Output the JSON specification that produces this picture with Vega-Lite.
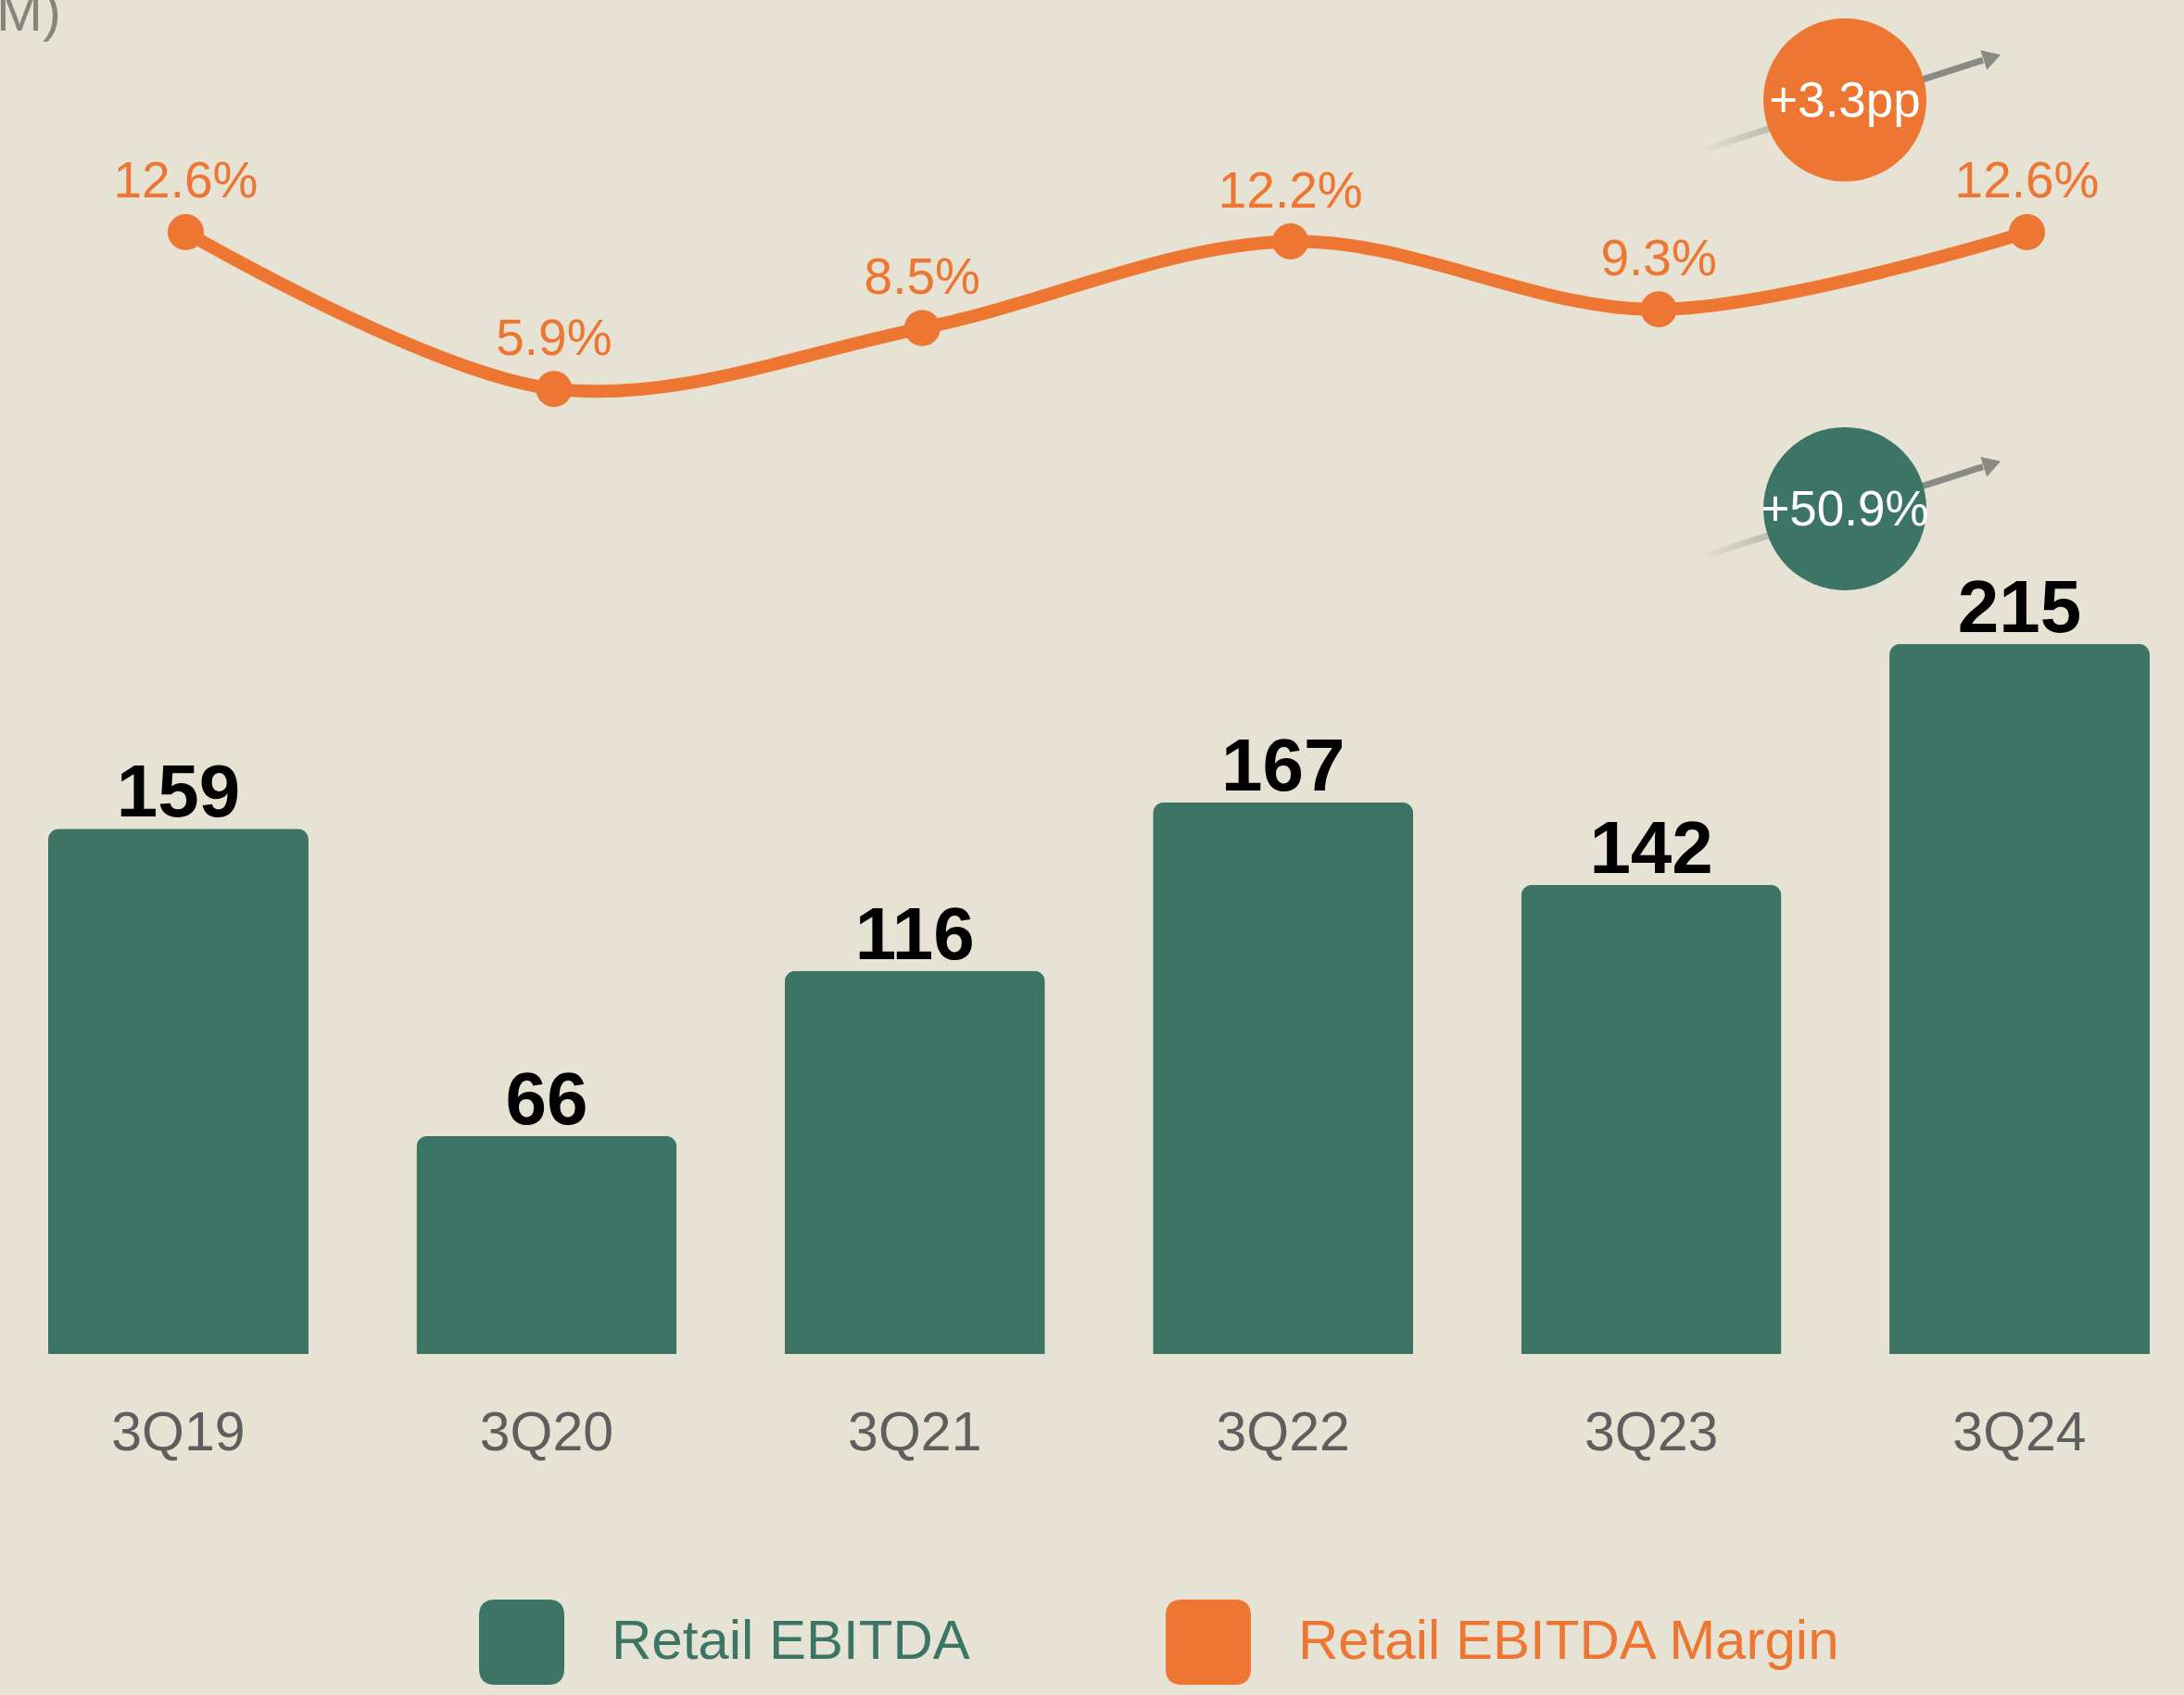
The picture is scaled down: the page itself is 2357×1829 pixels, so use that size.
{
  "$schema": "https://vega.github.io/schema/vega-lite/v6.json",
  "width": 2268,
  "height": 1461,
  "autosize": {"type": "none"},
  "padding": {"left": 52, "top": 0, "right": 37, "bottom": 368},
  "background": "#E6E3D4",
  "title": {
    "text": "M)",
    "anchor": "start",
    "frame": "group",
    "orient": "top",
    "offset": 0,
    "dx": -56,
    "dy": 93,
    "baseline": "alphabetic",
    "font": "Liberation Sans",
    "fontSize": 60,
    "fontWeight": "normal",
    "color": "#86857C"
  },
  "config": {
    "view": {"stroke": null},
    "font": "Liberation Sans"
  },
  "datasets": {
    "quarters": [
      {"period": "3Q19", "ebitda": 159, "margin": 0.126, "series": "Retail EBITDA", "mseries": "Retail EBITDA Margin"},
      {"period": "3Q20", "ebitda": 66, "margin": 0.059, "series": "Retail EBITDA", "mseries": "Retail EBITDA Margin"},
      {"period": "3Q21", "ebitda": 116, "margin": 0.085, "series": "Retail EBITDA", "mseries": "Retail EBITDA Margin"},
      {"period": "3Q22", "ebitda": 167, "margin": 0.122, "series": "Retail EBITDA", "mseries": "Retail EBITDA Margin"},
      {"period": "3Q23", "ebitda": 142, "margin": 0.093, "series": "Retail EBITDA", "mseries": "Retail EBITDA Margin"},
      {"period": "3Q24", "ebitda": 215, "margin": 0.126, "series": "Retail EBITDA", "mseries": "Retail EBITDA Margin"}
    ],
    "ebitdaBadge": [
      {"period": "3Q24", "label": "+50.9%", "badge": 255.9, "arrowStart": 241.1, "arrowEnd": 268.6, "head": 269.4}
    ],
    "marginBadge": [
      {"period": "3Q24", "label": "+3.3pp", "badge": 0.1825, "arrowStart": 0.1607, "arrowEnd": 0.1995, "head": 0.2007}
    ]
  },
  "encoding": {
    "x": {
      "field": "period",
      "type": "nominal",
      "sort": ["3Q19", "3Q20", "3Q21", "3Q22", "3Q23", "3Q24"],
      "scale": {"paddingInner": 0.293, "paddingOuter": 0},
      "axis": {
        "title": null,
        "domain": false,
        "ticks": false,
        "labelAngle": 0,
        "labelBaseline": "top",
        "labelPadding": 56,
        "labelFontSize": 59,
        "labelColor": "#5E5E5E",
        "labelFont": "Liberation Sans"
      }
    }
  },
  "layer": [
    {
      "layer": [
        {
          "data": {"name": "quarters"},
          "mark": {"type": "bar", "cornerRadiusTopLeft": 12, "cornerRadiusTopRight": 12},
          "encoding": {
            "y": {"field": "ebitda", "type": "quantitative", "scale": {"domain": [0, 409.9], "nice": false, "zero": true}, "axis": null},
            "color": {
              "field": "series",
              "type": "nominal",
              "scale": {"domain": ["Retail EBITDA", "Retail EBITDA Margin"], "range": ["#3C7466", "#ED7632"]},
              "legend": {
                "title": null,
                "orient": "none",
                "legendX": 465,
                "legendY": 1726,
                "direction": "horizontal",
                "symbolType": "M -0.62 -1 L 0.62 -1 Q 1 -1 1 -0.62 L 1 0.62 Q 1 1 0.62 1 L -0.62 1 Q -1 1 -1 0.62 L -1 -0.62 Q -1 -1 -0.62 -1 Z",
                "symbolSize": 8464,
                "symbolStrokeWidth": 0,
                "symbolOpacity": 1,
                "labelFontSize": 60,
                "labelFont": "Liberation Sans",
                "labelOffset": 51,
                "labelLimit": 1000,
                "columnPadding": 211,
                "padding": 0,
                "encode": {
                  "labels": {"update": {"fill": {"signal": "datum.value === 'Retail EBITDA' ? '#3C7466' : '#ED7632'"}}}
                }
              }
            }
          }
        },
        {
          "data": {"name": "quarters"},
          "mark": {"type": "text", "baseline": "alphabetic", "dy": -13, "fontSize": 80, "fontWeight": "bold", "font": "Liberation Sans", "color": "#000000"},
          "encoding": {
            "y": {"field": "ebitda", "type": "quantitative", "scale": {"domain": [0, 409.9], "nice": false}, "axis": null},
            "text": {"field": "ebitda", "type": "quantitative"}
          }
        },
        {
          "data": {"name": "ebitdaBadge"},
          "mark": {
            "type": "rule",
            "strokeWidth": 7,
            "xOffset": -345.5,
            "x2Offset": -39.5,
            "stroke": {"gradient": "linear", "x1": 0, "y1": 0, "x2": 1, "y2": 0, "stops": [{"offset": 0, "color": "rgba(138,138,133,0)"}, {"offset": 0.55, "color": "#8A8A85"}, {"offset": 1, "color": "#8A8A85"}]}
          },
          "encoding": {
            "x2": {"field": "period"},
            "y": {"field": "arrowStart", "type": "quantitative", "scale": {"domain": [0, 409.9], "nice": false}, "axis": null},
            "y2": {"field": "arrowEnd"}
          }
        },
        {
          "data": {"name": "ebitdaBadge"},
          "mark": {"type": "point", "shape": "triangle-right", "angle": 342.25, "size": 500, "filled": true, "opacity": 1, "color": "#8A8A85", "xOffset": -29.5},
          "encoding": {
            "y": {"field": "head", "type": "quantitative", "scale": {"domain": [0, 409.9], "nice": false}, "axis": null}
          }
        },
        {
          "data": {"name": "ebitdaBadge"},
          "mark": {"type": "point", "shape": "circle", "size": 30976, "filled": true, "opacity": 1, "color": "#3C7466", "xOffset": -188.5},
          "encoding": {
            "y": {"field": "badge", "type": "quantitative", "scale": {"domain": [0, 409.9], "nice": false}, "axis": null}
          }
        },
        {
          "data": {"name": "ebitdaBadge"},
          "mark": {"type": "text", "baseline": "middle", "align": "center", "dx": -188.5, "dy": 2, "fontSize": 53, "font": "Liberation Sans", "color": "#FFFFFF"},
          "encoding": {
            "y": {"field": "badge", "type": "quantitative", "scale": {"domain": [0, 409.9], "nice": false}, "axis": null},
            "text": {"field": "label", "type": "nominal"}
          }
        }
      ]
    },
    {
      "layer": [
        {
          "data": {"name": "quarters"},
          "mark": {"type": "line", "interpolate": "catmull-rom", "strokeWidth": 14, "color": "#ED7632", "xOffset": 8},
          "encoding": {
            "y": {"field": "margin", "type": "quantitative", "scale": {"domain": [-0.3534, 0.2252], "nice": false, "zero": false}, "axis": null}
          }
        },
        {
          "data": {"name": "quarters"},
          "mark": {"type": "point", "shape": "circle", "filled": true, "opacity": 1, "size": 1521, "xOffset": 8},
          "encoding": {
            "y": {"field": "margin", "type": "quantitative", "scale": {"domain": [-0.3534, 0.2252], "nice": false, "zero": false}, "axis": null},
            "color": {"field": "mseries", "type": "nominal", "scale": {"domain": ["Retail EBITDA", "Retail EBITDA Margin"], "range": ["#3C7466", "#ED7632"]}}
          }
        },
        {
          "data": {"name": "quarters"},
          "mark": {"type": "text", "baseline": "alphabetic", "dy": -37, "dx": 8, "fontSize": 55, "font": "Liberation Sans", "color": "#ED7632"},
          "encoding": {
            "y": {"field": "margin", "type": "quantitative", "scale": {"domain": [-0.3534, 0.2252], "nice": false, "zero": false}, "axis": null},
            "text": {"field": "margin", "type": "quantitative", "format": ".1%"}
          }
        },
        {
          "data": {"name": "marginBadge"},
          "mark": {
            "type": "rule",
            "strokeWidth": 7,
            "xOffset": -345.5,
            "x2Offset": -39.5,
            "stroke": {"gradient": "linear", "x1": 0, "y1": 0, "x2": 1, "y2": 0, "stops": [{"offset": 0, "color": "rgba(138,138,133,0)"}, {"offset": 0.55, "color": "#8A8A85"}, {"offset": 1, "color": "#8A8A85"}]}
          },
          "encoding": {
            "x2": {"field": "period"},
            "y": {"field": "arrowStart", "type": "quantitative", "scale": {"domain": [-0.3534, 0.2252], "nice": false, "zero": false}, "axis": null},
            "y2": {"field": "arrowEnd"}
          }
        },
        {
          "data": {"name": "marginBadge"},
          "mark": {"type": "point", "shape": "triangle-right", "angle": 342.25, "size": 500, "filled": true, "opacity": 1, "color": "#8A8A85", "xOffset": -29.5},
          "encoding": {
            "y": {"field": "head", "type": "quantitative", "scale": {"domain": [-0.3534, 0.2252], "nice": false, "zero": false}, "axis": null}
          }
        },
        {
          "data": {"name": "marginBadge"},
          "mark": {"type": "point", "shape": "circle", "size": 30976, "filled": true, "opacity": 1, "color": "#ED7632", "xOffset": -188.5},
          "encoding": {
            "y": {"field": "badge", "type": "quantitative", "scale": {"domain": [-0.3534, 0.2252], "nice": false, "zero": false}, "axis": null}
          }
        },
        {
          "data": {"name": "marginBadge"},
          "mark": {"type": "text", "baseline": "middle", "align": "center", "dx": -188.5, "dy": 2, "fontSize": 53, "font": "Liberation Sans", "color": "#FFFFFF"},
          "encoding": {
            "y": {"field": "badge", "type": "quantitative", "scale": {"domain": [-0.3534, 0.2252], "nice": false, "zero": false}, "axis": null},
            "text": {"field": "label", "type": "nominal"}
          }
        }
      ]
    }
  ],
  "resolve": {"scale": {"y": "independent"}}
}
